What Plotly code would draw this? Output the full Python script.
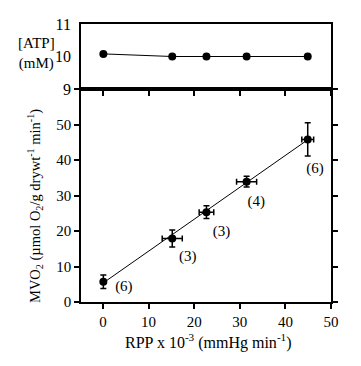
import plotly.graph_objects as go

# Data
rpp = [0.1, 15.2, 22.7, 31.5, 44.9]          # RPP x 10^-3
rpp_err = [0.0, 2.2, 1.6, 2.2, 1.3]
mvo2 = [5.7, 17.9, 25.3, 33.9, 45.8]
mvo2_err = [1.9, 2.4, 1.8, 1.5, 4.7]
atp = [10.08, 10.0, 10.0, 10.0, 10.0]
n_labels = ["(6)", "(3)", "(3)", "(4)", "(6)"]
label_x = [4.6, 18.6, 26.0, 33.6, 46.5]
label_y = [4.2, 12.6, 19.6, 28.1, 37.5]
fit_x = [0.1, 44.9]
fit_y = [5.4, 45.7]
x_ticks = [0, 10, 20, 30, 40, 50]
mvo_ticks = [0, 10, 20, 30, 40, 50, 60]
mvo_ticktext = ["0", "10", "20", "30", "40", "50", ""]
atp_ticks = [9, 10, 11]
atp_minor = [9, 9.5, 10, 10.5, 11]

FONT = "Liberation Serif"
W, H = 361, 366
xdom = [81 / W, 331 / W]
bot_dom = [(H - 302) / H, (H - 89) / H]
top_dom = [(H - 89) / H, (H - 24) / H]
xr = [-4.8, 50]
LW = 1.6

fig = go.Figure()

# top panel ATP
fig.add_trace(go.Scatter(x=rpp, y=atp, mode="lines+markers", xaxis="x", yaxis="y",
                         line=dict(color="black", width=1),
                         marker=dict(color="black", size=8), showlegend=False))

# bottom panel fit line
fig.add_trace(go.Scatter(x=fit_x, y=fit_y, mode="lines", xaxis="x2", yaxis="y2",
                         line=dict(color="black", width=1), showlegend=False))
# bottom panel points with error bars
fig.add_trace(go.Scatter(x=rpp, y=mvo2, mode="markers", xaxis="x2", yaxis="y2",
                         marker=dict(color="black", size=8),
                         error_y=dict(type="data", array=mvo2_err, color="black", thickness=1.5, width=3),
                         error_x=dict(type="data", array=rpp_err, color="black", thickness=1.5, width=3),
                         showlegend=False))
# n labels
fig.add_trace(go.Scatter(x=label_x, y=label_y, mode="text", text=n_labels, xaxis="x2", yaxis="y2",
                         textfont=dict(family=FONT, size=15, color="black"), showlegend=False))

common_line = dict(showline=True, linecolor="black", linewidth=LW, showgrid=False, zeroline=False)


def ann(text, px, py, size, angle=0):
    return dict(text=text, x=px / W, y=(H - py) / H, xref="paper", yref="paper",
                xanchor="center", yanchor="middle", showarrow=False,
                textangle=angle, font=dict(size=size))


fig.update_layout(
    width=W, height=H,
    margin=dict(l=0, r=0, t=0, b=0, autoexpand=False),
    paper_bgcolor="white", plot_bgcolor="white",
    font=dict(family=FONT, color="black", size=14),
    xaxis=dict(domain=xdom, range=xr, anchor="y", tickvals=x_ticks, ticks="outside",
               ticklen=5, tickwidth=1.5, tickcolor="black", showticklabels=False,
               mirror=True, **common_line),
    yaxis=dict(domain=top_dom, range=[9, 11], anchor="x", tickvals=atp_ticks,
               ticks="outside", ticklen=5, tickcolor="rgba(0,0,0,0)",
               tickfont=dict(size=16), mirror=True, **common_line),
    yaxis3=dict(domain=top_dom, range=[9, 11], overlaying="y", side="right", anchor="x",
                tickvals=atp_minor, ticks="outside", ticklen=5, tickwidth=1.5, tickcolor="black",
                showticklabels=False, showgrid=False, zeroline=False, showline=False),
    xaxis2=dict(domain=xdom, range=xr, anchor="y2", tickvals=x_ticks, ticks="outside",
                ticklen=5, tickwidth=1.5, tickcolor="black", tickfont=dict(size=15),
                mirror=True, **common_line),
    yaxis2=dict(domain=bot_dom, range=[0, 60], anchor="x2", tickvals=mvo_ticks,
                ticktext=mvo_ticktext, ticks="outside", ticklen=5, tickwidth=1.5,
                tickcolor="black", tickfont=dict(size=15), mirror="ticks", **common_line),
    annotations=[
        ann("RPP x 10<sup>-3</sup> (mmHg min<sup>-1</sup>)", 208, 341, 16),
        ann("MVO<sub>2</sub> (µmol O<sub>2</sub>/g drywt<sup>-1</sup> min<sup>-1</sup>)", 35, 206, 14.5, -90),
        ann("[ATP]<br>(mM)", 36, 53, 15),
    ],
)

fig.write_html("out.html", config={"displayModeBar": False},
               post_script="document.body.style.margin='0';document.body.style.padding='0';")
